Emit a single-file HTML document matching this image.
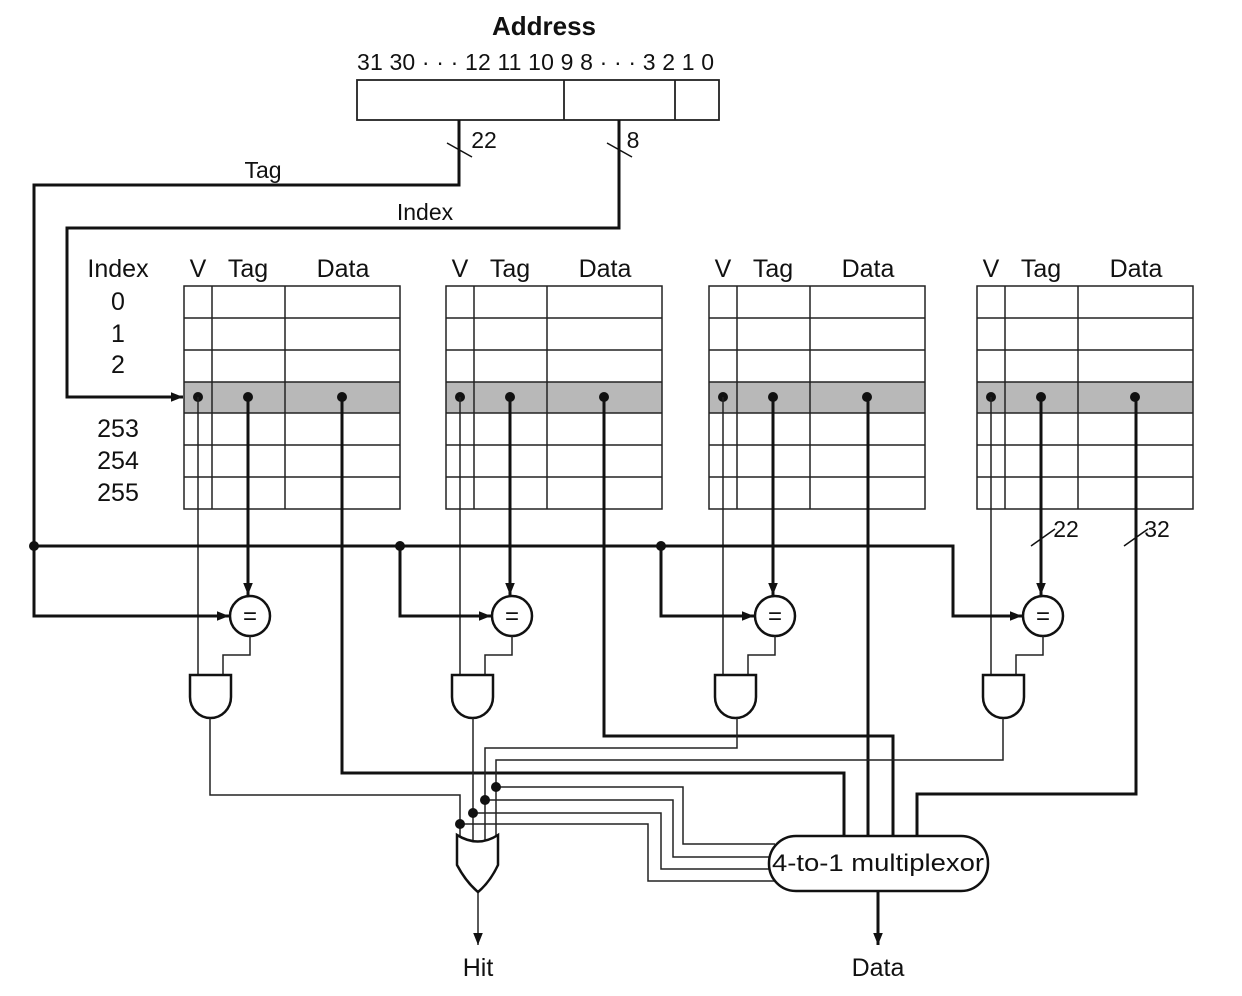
<!DOCTYPE html>
<html><head><meta charset="utf-8"><style>
html,body{margin:0;padding:0;background:#fff;}
svg{display:block;}
text{font-family:"Liberation Sans",Arial,sans-serif;fill:#111;}
</style></head><body>
<svg width="1242" height="996" viewBox="0 0 1242 996" xmlns="http://www.w3.org/2000/svg">
<defs>
<marker id="ar" viewBox="0 0 10 10" refX="10" refY="5" markerWidth="12" markerHeight="12" markerUnits="userSpaceOnUse" orient="auto"><path d="M0,1 L10,5 L0,9 z" fill="#111"/></marker>
<g id="tbl">
<rect x="0" y="382" width="216" height="31" fill="#b8b8b8"/>
<g stroke="#222" stroke-width="1.5" fill="none">
<rect x="0" y="286" width="216" height="223"/>
<line x1="28" y1="286" x2="28" y2="509"/><line x1="101" y1="286" x2="101" y2="509"/>
<line x1="0" y1="318" x2="216" y2="318"/><line x1="0" y1="350" x2="216" y2="350"/>
<line x1="0" y1="382" x2="216" y2="382"/><line x1="0" y1="413" x2="216" y2="413"/>
<line x1="0" y1="445" x2="216" y2="445"/><line x1="0" y1="477" x2="216" y2="477"/>
</g>
<g fill="#111"><circle cx="14" cy="397" r="5"/><circle cx="64" cy="397" r="5"/><circle cx="158" cy="397" r="5"/></g>
<g font-size="25" text-anchor="middle"><text x="14" y="277">V</text><text x="64" y="277">Tag</text><text x="159" y="277">Data</text></g>
<line x1="14" y1="397" x2="14" y2="675" stroke="#222" stroke-width="1.5"/>
<line x1="64" y1="397" x2="64" y2="595" stroke="#111" stroke-width="3" marker-end="url(#ar)"/>
<circle cx="66" cy="616" r="20" fill="#fff" stroke="#111" stroke-width="2.5"/>
<text x="66" y="624" font-size="24" text-anchor="middle">=</text>
<polyline points="66,636 66,655 39,655 39,675" fill="none" stroke="#222" stroke-width="1.5"/>
<path d="M6,675 H47 V697 A20.5,21 0 0 1 6,697 Z" fill="#fff" stroke="#111" stroke-width="2.5"/>
</g>
</defs>

<text x="544" y="35" font-size="26" font-weight="bold" text-anchor="middle">Address</text>
<text x="357" y="70" font-size="23" textLength="357" lengthAdjust="spacing">31 30 · · · 12 11 10 9 8 · · · 3 2 1 0</text>
<g stroke="#222" stroke-width="1.8" fill="none">
<rect x="357" y="80" width="362" height="40"/>
<line x1="564" y1="80" x2="564" y2="120"/><line x1="675" y1="80" x2="675" y2="120"/>
</g>

<use href="#tbl" x="184"/>
<use href="#tbl" x="446"/>
<use href="#tbl" x="709"/>
<use href="#tbl" x="977"/>

<g font-size="25" text-anchor="middle">
<text x="118" y="277">Index</text>
<text x="118" y="310">0</text><text x="118" y="342">1</text><text x="118" y="373">2</text>
<text x="118" y="437">253</text><text x="118" y="469">254</text><text x="118" y="501">255</text>
</g>
<g font-size="23" text-anchor="middle">
<text x="263" y="178">Tag</text><text x="425" y="220">Index</text>
<text x="484" y="148">22</text><text x="633" y="148">8</text>
<text x="1066" y="537">22</text><text x="1157" y="537">32</text>
</g>

<g fill="none" stroke="#111" stroke-width="3">
<polyline points="459,120 459,185 34,185 34,616 229,616" marker-end="url(#ar)"/>
<polyline points="34,546 953,546 953,616 1022,616" marker-end="url(#ar)"/>
<polyline points="400,546 400,616 491,616" marker-end="url(#ar)"/>
<polyline points="661,546 661,616 754,616" marker-end="url(#ar)"/>
<polyline points="619,120 619,228 67,228 67,397 183,397" marker-end="url(#ar)"/>
<polyline points="342,397 342,773 844,773 844,836"/>
<polyline points="604,397 604,736 893,736 893,836"/>
<polyline points="868,397 868,836"/>
<polyline points="1136,397 1136,794 917,794 917,836"/>
<line x1="878" y1="890" x2="878" y2="945" marker-end="url(#ar)"/>
</g>
<g stroke="#111" stroke-width="1.5">
<line x1="447" y1="143" x2="472" y2="157"/><line x1="607" y1="143" x2="632" y2="157"/>
<line x1="1031" y1="546" x2="1055" y2="529"/><line x1="1124" y1="546" x2="1148" y2="529"/>
</g>
<g fill="#111"><circle cx="34" cy="546" r="5"/><circle cx="400" cy="546" r="5"/><circle cx="661" cy="546" r="5"/></g>

<g fill="none" stroke="#222" stroke-width="1.5">
<polyline points="210,718 210,795 460,795 460,840"/>
<polyline points="473,718 473,840"/>
<polyline points="737,718 737,748 485,748 485,840"/>
<polyline points="1003,718 1003,760 496,760 496,840"/>
<polyline points="496,787 683,787 683,844 775,844"/>
<polyline points="485,800 673,800 673,857 772,857"/>
<polyline points="473,813 661,813 661,869 772,869"/>
<polyline points="460,824 648,824 648,881 775,881"/>
<line x1="478" y1="892" x2="478" y2="945" marker-end="url(#ar)"/>
</g>
<g fill="#111"><circle cx="496" cy="787" r="5"/><circle cx="485" cy="800" r="5"/><circle cx="473" cy="813" r="5"/><circle cx="460" cy="824" r="5"/></g>

<path d="M457,835 Q478,848 498,835 V865 Q490,882 478,892 Q466,882 457,865 Z" fill="#fff" stroke="#111" stroke-width="2.5"/>

<rect x="769" y="836" width="219" height="55" rx="27" fill="#fff" stroke="#111" stroke-width="2.5"/>
<text x="878" y="871" font-size="24" text-anchor="middle" textLength="212" lengthAdjust="spacingAndGlyphs">4-to-1 multiplexor</text>

<text x="478" y="976" font-size="25" text-anchor="middle">Hit</text>
<text x="878" y="976" font-size="25" text-anchor="middle">Data</text>
</svg>
</body></html>
